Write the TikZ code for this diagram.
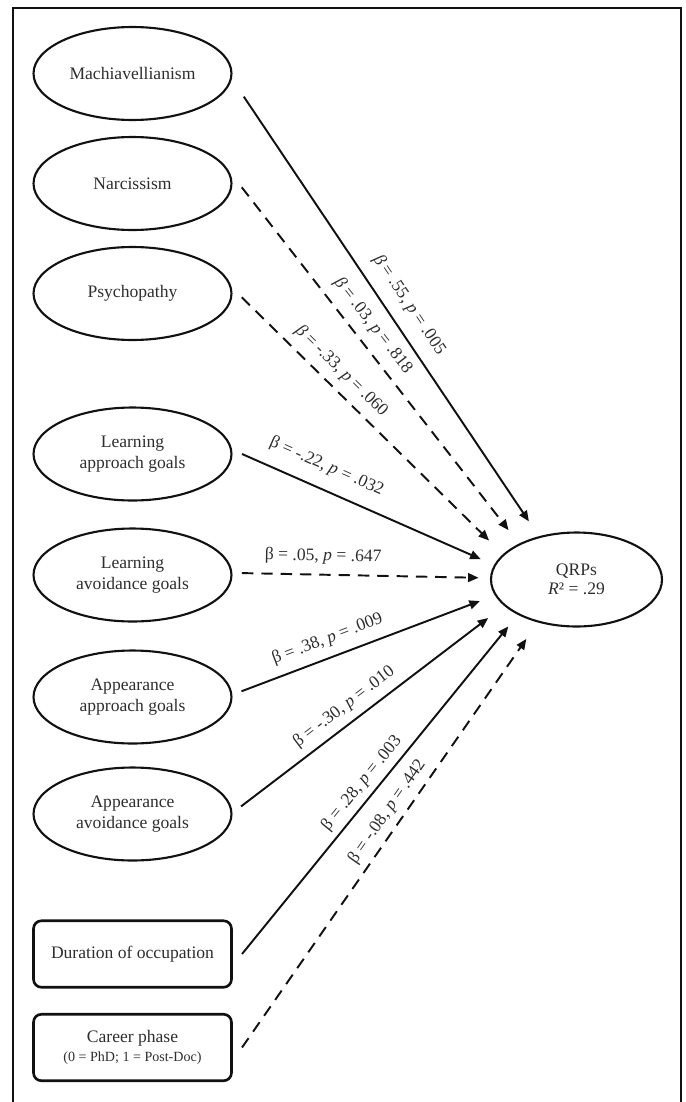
\documentclass[tikz,border=0pt]{standalone}
\usepackage{fontspec}
\setmainfont{Liberation Serif}
\usetikzlibrary{arrows.meta,positioning,shapes.geometric}
\definecolor{ink}{HTML}{111111}
\definecolor{inkgray}{HTML}{2E2E2E}
\newcommand{\bit}{\textit{β}}
\tikzset{
  latent/.style={ellipse,draw=ink,line width=1.2pt,
                 minimum width=3.96cm,minimum height=1.86cm,
                 align=center,font=\fontsize{10}{12}\selectfont,
                 text=inkgray,inner sep=0pt,outer sep=6pt},
  manifest/.style={rectangle,rounded corners=4.5pt,draw=ink,line width=1.5pt,
                   minimum width=3.96cm,minimum height=1.33cm,
                   align=center,font=\fontsize{10}{12}\selectfont,
                   text=inkgray,inner sep=0pt,outer sep=6pt},
  outcome/.style={ellipse,draw=ink,line width=1.2pt,
                  minimum width=3.42cm,minimum height=1.88cm,
                  align=center,font=\fontsize{10}{11}\selectfont,
                  text=inkgray,inner sep=0pt},
  sigpath/.style={-{Triangle[length=6pt,width=5pt]},line width=1.1pt,draw=ink},
  nspath/.style={sigpath,dash pattern=on 6.5pt off 4.5pt},
  coef/.style={sloped,font=\fontsize{10}{12}\selectfont,text=inkgray,inner sep=3.3pt}
}
\begin{document}
\begin{tikzpicture}[x=0.02cm,y=-0.02cm]
  \useasboundingbox (0,0) rectangle (686,1102);
  % frame
  \draw[ink,line width=1.5pt] (13,1102) -- (13,8) -- (681,8) -- (681,1102);
  % predictors
  \node[latent] (mach) at (132.5,73.5) {Machiavellianism};
  \node[latent] (narc) at (132.5,183.5) {Narcissism};
  \node[latent] (psych) at (132.5,293.5) {Psychopathy};
  \node[latent] (lapp) at (132.5,454) {Learning\\approach goals};
  \node[latent] (lavoid) at (132.5,575) {Learning\\avoidance goals};
  \node[latent] (aapp) at (132.5,697) {Appearance\\approach goals};
  \node[latent] (aavoid) at (132.5,814) {Appearance\\avoidance goals};
  \node[manifest] (dur) at (132.5,954) {Duration of occupation};
  \node[manifest] (career) at (132.5,1047.5) {Career phase\\[-1pt]{\fontsize{8}{9.5}\selectfont (0 = PhD; 1 = Post-Doc)}};
  % outcome
  \node[outcome] (qrp) at (576.5,579.5) {QRPs\\\textit{R}² = .29};
  % paths
  \draw[sigpath,shorten <=5.7pt,shorten >=10.2pt] (mach.-8) -- node[coef,pos=.51,above=3.6pt] {\bit{} = .55, \textit{p} = .005} (qrp.131.5);
  \draw[nspath,shorten >=9.7pt] (narc.-2) -- node[coef,pos=.42,above=2.2pt] {\bit{} = .03, \textit{p} = .818} (qrp.148.3);
  \draw[nspath,shorten >=11.1pt] (psych.-2) -- node[coef,pos=.335,above=1.4pt] {\bit{} = -.33, \textit{p} = .060} (qrp.161.9);
  \draw[sigpath,shorten >=8.3pt] (lapp.east) -- node[coef,pos=.3,above=4.4pt] {β = -.22, \textit{p} = .032} (qrp.170.4);
  \draw[nspath,shorten >=6.5pt] (lavoid.1) -- node[coef,pos=.326,above=2pt] {β = .05, \textit{p} = .647} (qrp.179);
  \draw[sigpath,shorten >=9.1pt] (aapp.3) -- node[coef,pos=.365,above=2pt] {β = .38, \textit{p} = .009} (qrp.191.4);
  \draw[sigpath,shorten >=11.4pt] (aavoid.4) -- node[coef,pos=.43,above=1pt] {β = -.30, \textit{p} = .010} (qrp.200.7);
  \draw[sigpath,shorten >=8.5pt] (dur.east) -- node[coef,pos=.476,above=0pt] {β = .28, \textit{p} = .003} (qrp.211.2);
  \draw[nspath,shorten >=11.4pt] (career.east) -- node[coef,pos=.534,above=0.4pt] {β = -.08, \textit{p} = .442} (qrp.228.8);
\end{tikzpicture}
\end{document}
